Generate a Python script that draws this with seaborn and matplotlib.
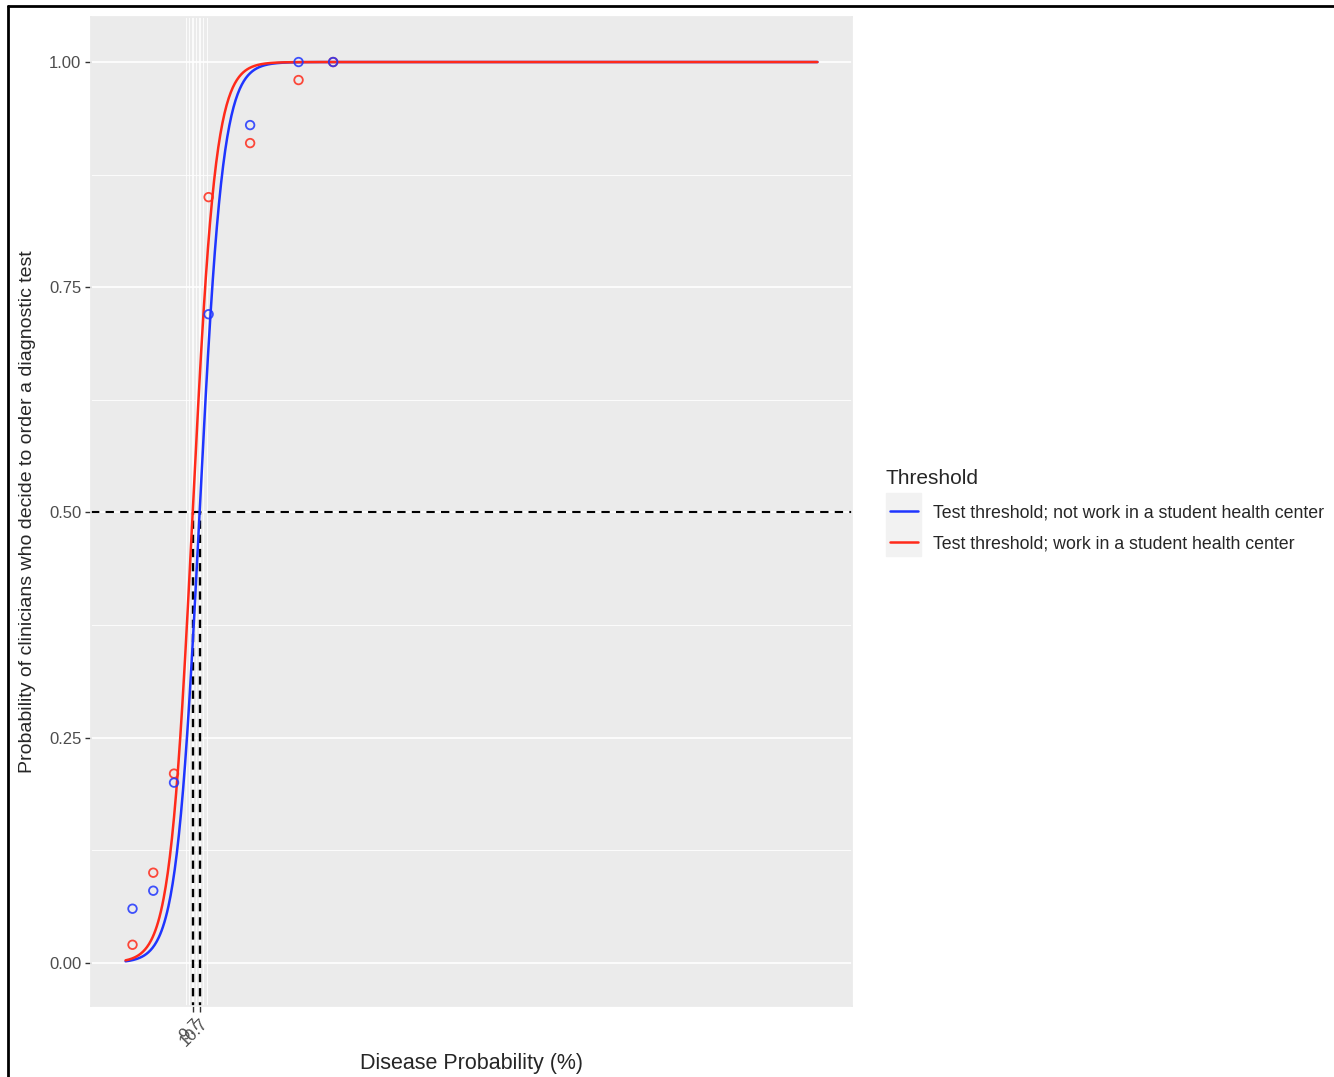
import numpy as np
import pandas as pd
import seaborn as sns
import matplotlib.pyplot as plt
from matplotlib.lines import Line2D
from matplotlib.patches import Rectangle

# observed proportions at each disease probability (%)
prob_pct = [1, 4, 7, 12, 18, 25, 30]
order_not_shc = [0.06, 0.08, 0.20, 0.72, 0.93, 1.00, 1.00]
order_shc = [0.02, 0.10, 0.21, 0.85, 0.91, 0.98, 1.00]

# fitted logistic thresholds (midpoint, slope)
thr_not_shc = 10.7
thr_shc = 9.7
slope_not_shc = 0.60
slope_shc = 0.61

lab_not = "Test threshold; not work in a student health center"
lab_shc = "Test threshold; work in a student health center"
col_not = "#1f35ff"
col_shc = "#ff2a1a"

sns.set_theme(style="darkgrid", rc={
    "axes.facecolor": "#EBEBEB",
    "grid.color": "white",
    "axes.edgecolor": "#EBEBEB",
})
plt.rcParams["font.family"] = ["Liberation Sans", "DejaVu Sans"]

fig = plt.figure(figsize=(13.34, 10.77), dpi=100)
ax = fig.add_axes([91 / 1334, 1 - 1006 / 1077, (852 - 91) / 1334, (1006 - 17) / 1077])

xs = np.linspace(0, 100, 1001)
curves = pd.DataFrame({
    "x": np.concatenate([xs, xs]),
    "y": np.concatenate([1 / (1 + np.exp(-slope_not_shc * (xs - thr_not_shc))),
                         1 / (1 + np.exp(-slope_shc * (xs - thr_shc)))]),
    "group": [lab_not] * len(xs) + [lab_shc] * len(xs),
})
pts = pd.DataFrame({
    "x": prob_pct + prob_pct,
    "y": order_shc + order_not_shc,
    "group": [lab_shc] * len(prob_pct) + [lab_not] * len(prob_pct),
})

# reference lines
ax.axhline(0.5, color="black", lw=1.5, ls=(0, (4, 3)), zorder=2)
for t in [thr_shc, thr_not_shc]:
    ax.plot([t, t], [-0.1, 0.5], color="black", lw=1.7, ls=(0, (3.5, 2.5)), zorder=2)

sns.lineplot(data=curves, x="x", y="y", hue="group", hue_order=[lab_not, lab_shc],
             palette=[col_not, col_shc], lw=1.8, ax=ax, legend=False, zorder=3)
for g, c in [(lab_shc, col_shc), (lab_not, col_not)]:
    d = pts[pts["group"] == g]
    ax.scatter(d["x"], d["y"], s=38, facecolors="none", edgecolors=c,
               linewidths=1.3, alpha=0.85, zorder=4)

ax.set_xlim(-5, 105)
ax.set_ylim(-0.048, 1.05)
ax.set_xticks([thr_shc, thr_not_shc])
ax.set_xticklabels(["9.7", "10.7"], rotation=45, ha="right", rotation_mode="anchor")
ax.set_xticks([8.7, 9.2, 10.2, 11.2, 11.7], minor=True)
ax.set_yticks([0, 0.25, 0.5, 0.75, 1.0])
ax.set_yticklabels(["0.00", "0.25", "0.50", "0.75", "1.00"])
ax.set_yticks([0.125, 0.375, 0.625, 0.875], minor=True)
ax.grid(which="major", color="white", lw=1.2)
ax.grid(which="minor", color="white", lw=0.6)
ax.tick_params(which="major", length=4, width=1, color="#333333", labelcolor="#4D4D4D",
               labelsize=12, pad=3)
ax.tick_params(axis="both", which="minor", length=0)
ax.tick_params(left=True, bottom=True)
ax.set_xlabel("Disease Probability (%)", fontsize=15.5, labelpad=3)
ax.set_ylabel("Probability of clinicians who decide to order a diagnostic test", fontsize=14, labelpad=9)

# legend: title as separate text, gray key column behind handles
fig.text(886 / 1334, 1 - 478 / 1077, "Threshold", fontsize=15, va="center", ha="left")
fig.add_artist(Rectangle((886 / 1334, 1 - 556 / 1077), 35 / 1334, 63 / 1077,
                         transform=fig.transFigure, color="#F2F2F2", zorder=0))
handles = [Line2D([], [], color=col_not, lw=1.8), Line2D([], [], color=col_shc, lw=1.8)]
leg = fig.legend(handles, [lab_not, lab_shc], loc="upper left",
                 bbox_to_anchor=(890 / 1334, 1 - 504 / 1077), frameon=False, borderpad=0,
                 borderaxespad=0, fontsize=12.8, handlelength=1.55,
                 handletextpad=0.85, labelspacing=0.8)

# page border (left & top)
fig.add_artist(Line2D([8 / 1334, 8 / 1334], [0, 1 - 6 / 1077], color="black", lw=2,
                      transform=fig.transFigure))
fig.add_artist(Line2D([8 / 1334, 1], [1 - 6 / 1077, 1 - 6 / 1077], color="black", lw=2,
                      transform=fig.transFigure))

fig.savefig("out.png", dpi=100, facecolor="white")
